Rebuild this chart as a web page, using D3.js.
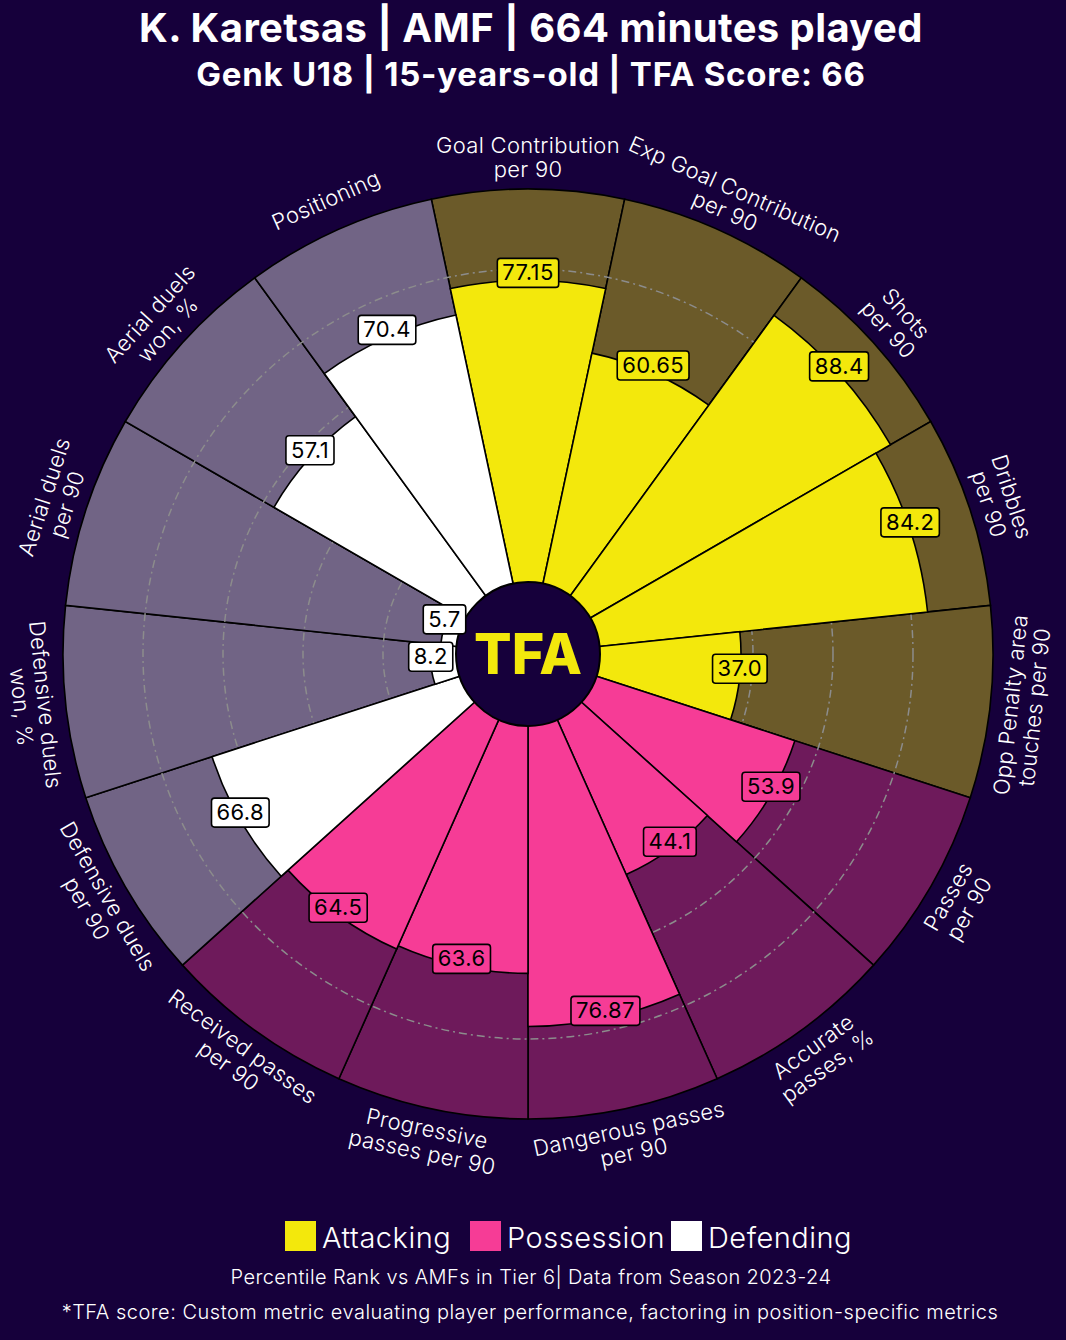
<!DOCTYPE html>
<html>
<head>
<meta charset="utf-8">
<script src="https://cdn.jsdelivr.net/npm/d3@7"></script>
<style>
  html, body { margin: 0; padding: 0; background: #16003b; }
  svg { display: block; }
</style>
</head>
<body>
<svg id="chart" width="1066" height="1340"></svg>
<script>
// ---------- DATA ----------
const titleText = "K. Karetsas | AMF | 664 minutes played";
const subtitleText = "Genk U18 | 15-years-old | TFA Score: 66";
const categories = [
  "Goal Contribution\nper 90",
  "Exp Goal Contribution\nper 90",
  "Shots\nper 90",
  "Dribbles\nper 90",
  "Opp Penalty area\ntouches per 90",
  "Passes\nper 90",
  "Accurate\npasses, %",
  "Dangerous passes\nper 90",
  "Progressive\npasses per 90",
  "Received passes\nper 90",
  "Defensive duels\nper 90",
  "Defensive duels\nwon, %",
  "Aerial duels\nper 90",
  "Aerial duels\nwon, %",
  "Positioning"
];
const values = [77.15, 60.65, 88.4, 84.2, 37.0, 53.9, 44.1, 76.87, 63.6, 64.5, 66.8, 8.2, 5.7, 57.1, 70.4];
const valueLabels = ["77.15", "60.65", "88.4", "84.2", "37.0", "53.9", "44.1", "76.87", "63.6", "64.5", "66.8", "8.2", "5.7", "57.1", "70.4"];
const groups = ["Attacking","Attacking","Attacking","Attacking","Attacking",
                "Possession","Possession","Possession","Possession","Possession",
                "Defending","Defending","Defending","Defending","Defending"];
const legendLabels = ["Attacking", "Possession", "Defending"];
const gridTicks = [20, 40, 60, 80];
const footnote1 = "Percentile Rank vs AMFs in Tier 6| Data from Season 2023-24";
const footnote2 = "*TFA score: Custom metric evaluating player performance, factoring in position-specific metrics";

// ---------- STYLE ----------
const BG = "#16003b";
const sliceColor = { Attacking: "#f3e80c", Possession: "#f63c96", Defending: "#ffffff" };
const bgColor = { Attacking: "#6b5a29", Possession: "#6e1a5b", Defending: "#716485" };
const FONT = "Inter, 'Noto Sans', sans-serif";

const svg = d3.select("#chart");
svg.append("rect").attr("width", 1066).attr("height", 1340).attr("fill", BG);

const cx = 528, cy = 654;
const r = d3.scaleLinear().domain([0, 100]).range([65, 465]);
const n = categories.length;
const step = 360 / n;
const angle = d3.scaleLinear().domain([0, n]).range([0, 2 * Math.PI]);
const rad = d => d * Math.PI / 180;

const g = svg.append("g").attr("transform", `translate(${cx},${cy})`);

// background slices
const bgArc = d3.arc().innerRadius(0).outerRadius(r(100));
g.selectAll("path.bg").data(categories).join("path")
  .attr("class", "bg")
  .attr("d", (d, i) => bgArc({ startAngle: angle(i - 0.5), endAngle: angle(i + 0.5) }))
  .attr("fill", (d, i) => bgColor[groups[i]])
  .attr("stroke", "#000").attr("stroke-width", 1.6);

// grid rings
g.selectAll("circle.grid").data(gridTicks).join("circle")
  .attr("class", "grid")
  .attr("r", d => r(d))
  .attr("fill", "none")
  .attr("stroke", "#8c8c8c")
  .attr("stroke-width", 1.5)
  .attr("stroke-dasharray", "8,4,2,4");

// value slices
const valArc = d3.arc().innerRadius(0);
g.selectAll("path.val").data(values).join("path")
  .attr("class", "val")
  .attr("d", (d, i) => valArc({ outerRadius: r(d), startAngle: angle(i - 0.5), endAngle: angle(i + 0.5) }))
  .attr("fill", (d, i) => sliceColor[groups[i]])
  .attr("stroke", "#000").attr("stroke-width", 1.6);

// center circle
g.append("circle").attr("r", 72).attr("fill", BG).attr("stroke", "#000").attr("stroke-width", 2);
g.append("text").text("TFA")
  .attr("x", 0).attr("y", 20)
  .attr("text-anchor", "middle")
  .attr("font-family", "Inter, 'DejaVu Sans', sans-serif")
  .attr("font-weight", 800)
  .attr("font-size", 56)
  .attr("textLength", 108).attr("lengthAdjust", "spacingAndGlyphs")
  .attr("fill", "#f3e80c");

// value labels
const vl = g.selectAll("g.vl").data(values).join("g")
  .attr("class", "vl")
  .attr("transform", (d, i) => {
    const a = angle(i);
    const rr = r(d);
    return `translate(${rr * Math.sin(a)},${-rr * Math.cos(a) - 8})`;
  });
vl.each(function(d, i) {
  const s = d3.select(this);
  const t = s.append("text").text(valueLabels[i])
    .attr("text-anchor", "middle")
    .attr("y", 8)
    .attr("font-family", FONT)
    .attr("font-size", 22)
    .attr("letter-spacing", 0.4)
    .attr("fill", "#000");
  const w = t.node().getComputedTextLength();
  s.insert("rect", "text")
    .attr("x", -w / 2 - 5).attr("y", -14)
    .attr("width", w + 10).attr("height", 29)
    .attr("rx", 3)
    .attr("fill", sliceColor[groups[i]])
    .attr("stroke", "#000").attr("stroke-width", 1.6);
});

// category labels
const LR = 497;
const cl = g.selectAll("text.cat").data(categories).join("text")
  .attr("class", "cat")
  .attr("text-anchor", "middle")
  .attr("font-family", FONT)
  .attr("font-weight", 300)
  .attr("font-size", 22)
  .attr("letter-spacing", 0.3)
  .attr("fill", "#ffffff")
  .attr("transform", (d, i) => {
    const adeg = i * step;
    let rot = adeg;
    if (adeg > 90 && adeg < 270) rot = adeg - 180;
    else if (adeg >= 270) rot = adeg - 360;
    const a = rad(adeg);
    return `translate(${LR * Math.sin(a)},${-LR * Math.cos(a)}) rotate(${rot})`;
  });
cl.each(function(d) {
  const lines = d.split("\n");
  const lh = 24;
  const t = d3.select(this);
  lines.forEach((ln, k) => {
    t.append("tspan").attr("x", 0)
      .attr("y", (k - (lines.length - 1) / 2) * lh + 8)
      .text(ln);
  });
});

// titles
svg.append("text").text(titleText)
  .attr("x", 531).attr("y", 42)
  .attr("text-anchor", "middle")
  .attr("font-family", FONT).attr("font-weight", 700)
  .attr("font-size", 40).attr("letter-spacing", 0.4).attr("fill", "#ffffff");
svg.append("text").text(subtitleText)
  .attr("x", 531).attr("y", 86)
  .attr("text-anchor", "middle")
  .attr("font-family", FONT).attr("font-weight", 700)
  .attr("font-size", 33).attr("letter-spacing", 0.75).attr("fill", "#ffffff");

// legend
const legendX = [285, 470, 671];
const lg = svg.selectAll("g.leg").data(legendLabels).join("g")
  .attr("class", "leg")
  .attr("transform", (d, i) => `translate(${legendX[i]},1221)`);
lg.append("rect").attr("width", 31).attr("height", 30)
  .attr("fill", d => sliceColor[d]);
lg.append("text").text(d => d)
  .attr("x", 37).attr("y", 27)
  .attr("font-family", FONT).attr("font-weight", 300)
  .attr("font-size", 29).attr("letter-spacing", 0.5).attr("fill", "#ffffff");

// footnotes
svg.append("text").text(footnote1)
  .attr("x", 531).attr("y", 1284)
  .attr("text-anchor", "middle")
  .attr("font-family", FONT).attr("font-weight", 300)
  .attr("font-size", 20).attr("letter-spacing", 0.4).attr("fill", "#ffffff");
svg.append("text").text(footnote2)
  .attr("x", 530).attr("y", 1319)
  .attr("text-anchor", "middle")
  .attr("font-family", FONT).attr("font-weight", 300)
  .attr("font-size", 20).attr("letter-spacing", 0.5).attr("fill", "#ffffff");
</script>
</body>
</html>
